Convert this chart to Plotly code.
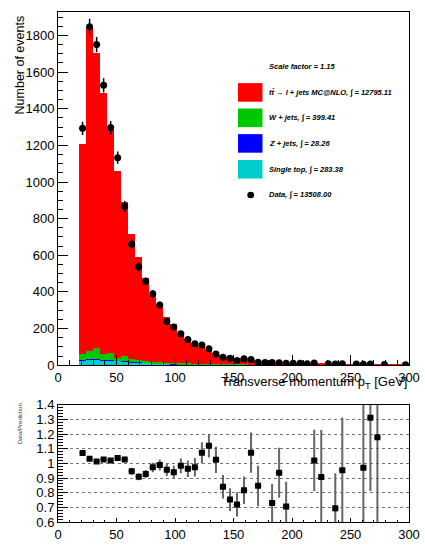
import plotly.graph_objects as go

# ---------------- data ----------------
bin_centers = [21, 27, 33, 39, 45, 51, 57, 63, 69, 75, 81, 87, 93, 99, 105, 111, 117, 123,
               129, 135, 141, 147, 153, 159, 165, 171, 177, 183, 189, 195, 201, 207, 213,
               219, 225, 231, 237, 243, 249, 255, 261, 267, 273, 279, 285, 291, 297]
bin_width = 6

single_top = [25, 31, 31, 28, 25, 23, 20, 17, 14, 12, 10, 8, 7, 6, 5, 4.5, 4, 3.5, 3, 2.6,
              2.2, 2, 1.7, 1.5, 1.3, 1.1, 1, 0.9, 0.8, 0.7, 0.6, 0.5, 0.5, 0.4, 0.4, 0.3,
              0.3, 0.3, 0.2, 0.2, 0.2, 0.2, 0.1, 0.1, 0.1, 0.1, 0.1]
z_jets = [1.5, 2, 2, 2, 1.8, 1.7, 1.5, 1.3, 1.2, 1.1, 1, 0.9, 0.8, 0.7, 0.6, 0.6, 0.5, 0.5,
          0.4, 0.4, 0.3, 0.3, 0.3, 0.3, 0.2, 0.2, 0.2, 0.2, 0.2, 0.1, 0.1, 0.1, 0.1, 0.1,
          0.1, 0.1, 0.1, 0.1, 0.1, 0.1, 0.1, 0.1, 0.1, 0.1, 0.1, 0.1, 0.1]
w_jets = [32, 47, 60, 32, 40, 15, 30, 18, 13, 10, 8, 7, 6, 5.5, 5, 4.5, 4, 3.5, 3, 3, 2.5,
          2.5, 2, 2, 2, 1.5, 1.5, 1.5, 1.2, 1.2, 1, 1, 1, 0.8, 0.8, 0.8, 0.6, 0.6, 0.6,
          0.5, 0.5, 0.5, 0.4, 0.4, 0.4, 0.3, 0.3]
ttbar = [1150, 1759, 1613, 1425, 1221, 1022, 840, 680, 565, 453, 362, 316, 248, 210, 167,
         136, 112, 95, 78, 60, 48, 39, 33, 28, 23.5, 20, 17, 14.5, 12.8, 11, 9.3, 8.4, 7.5,
         6.7, 5.8, 4.9, 4.6, 4.1, 3.6, 3.3, 2.9, 2.5, 2.2, 2.0, 1.7, 1.6, 1.4]

data_x = [21, 27, 33, 39, 45, 51, 57, 63, 69, 75, 81, 87, 93, 99, 105, 111, 117, 123, 129,
          135, 141, 147, 153, 159, 165, 171, 177, 183, 189, 195, 201, 207, 213, 219, 231,
          237, 243, 255, 261, 267, 279, 297]
data_y = [1293, 1848, 1750, 1528, 1297, 1133, 867, 660, 537, 458, 390, 328, 239, 209, 172,
          140, 117, 110, 90, 61, 44, 38, 26, 35, 31, 16, 15, 15, 14, 10, 10, 10, 8, 12, 8,
          7, 8, 6, 5, 6, 4, 3]
data_err = [36, 43, 42, 39, 36, 34, 29, 26, 23, 21, 20, 18, 15, 14, 13, 12, 11, 10, 9.5,
            7.8, 6.6, 6.2, 5.1, 5.9, 5.6, 4, 3.9, 3.9, 3.7, 3.2, 3.2, 3.2, 2.8, 3.5, 2.8,
            2.6, 2.8, 2.4, 2.2, 2.4, 2, 1.7]

ratio_x = [21, 27, 33, 39, 45, 51, 57, 63, 69, 75, 81, 87, 93, 99, 105, 111, 117, 123, 129,
           135, 141, 147, 153, 159, 165, 171, 183, 189, 195, 219, 225, 237, 243, 261, 267, 273]
ratio_y = [1.071, 1.031, 1.013, 1.027, 1.020, 1.036, 1.027, 0.947, 0.909, 0.927, 0.973,
           0.989, 0.956, 0.940, 0.983, 0.963, 0.973, 1.073, 1.120, 1.024, 0.840, 0.753,
           0.720, 0.816, 1.073, 0.847, 0.729, 0.936, 0.705, 1.020, 0.907, 0.693, 0.953,
           0.971, 1.311, 1.178]
ratio_err = [0.012, 0.012, 0.012, 0.013, 0.014, 0.016, 0.018, 0.024, 0.024, 0.027, 0.033,
             0.038, 0.042, 0.044, 0.051, 0.056, 0.063, 0.072, 0.080, 0.089, 0.080, 0.078,
             0.083, 0.094, 0.137, 0.137, 0.13, 0.17, 0.17, 0.21, 0.32, 0.24, 0.36, 0.5,
             0.5, 0.6]

scale_factor = "1.15"
legend_labels = ["tt\u0304 \u2192 l + jets MC@NLO, \u222b = 12795.11",
                 "W + jets, \u222b = 399.41",
                 "Z + jets, \u222b = 28.26",
                 "Single top, \u222b = 283.38"]
data_label = "Data, \u222b = 13508.00"
colors = ["#ff0000", "#00c800", "#0000ff", "#00cccc"]

# ---------------- geometry helpers (pixel -> paper) ----------------
L, R, T, B = 58, 409, 5, 527
PW, PH = R - L, B - T


def px(x):
    return (x - L) / PW


def py(y):
    return (B - y) / PH


FONT = "Liberation Sans, Arial, Helvetica, sans-serif"

fig = go.Figure()

# stacked histogram, bottom to top
for vals, col in [(single_top, colors[3]), (z_jets, colors[2]), (w_jets, colors[1]), (ttbar, colors[0])]:
    fig.add_trace(go.Bar(x=bin_centers, y=vals, width=bin_width, marker=dict(color=col, line=dict(width=0)),
                         xaxis="x", yaxis="y", showlegend=False))

fig.add_trace(go.Scatter(x=data_x, y=data_y, mode="markers",
                         marker=dict(symbol="circle", size=7, color="black"),
                         error_y=dict(type="data", array=data_err, color="black", thickness=1.5, width=0),
                         xaxis="x", yaxis="y", showlegend=False))

fig.add_trace(go.Scatter(x=ratio_x, y=ratio_y, mode="markers",
                         marker=dict(symbol="square", size=6, color="black"),
                         error_y=dict(type="data", array=ratio_err, color="#666666", thickness=2, width=0),
                         error_x=dict(type="constant", value=bin_width / 2, color="#666666", thickness=1, width=0),
                         xaxis="x2", yaxis="y2", showlegend=False, cliponaxis=True))

main_bottom = py(366.5)
ratio_top = py(407)

axis_common = dict(showline=True, linecolor="black", linewidth=1, mirror=True, showgrid=False,
                   zeroline=False, ticks="inside", tickcolor="black", tickwidth=1,
                   tickfont=dict(family=FONT, size=13, color="black"))

fig.update_layout(
    width=425, height=547, autosize=False,
    margin=dict(l=L, r=425 - R, t=T, b=547 - B),
    paper_bgcolor="white", plot_bgcolor="white",
    barmode="stack", bargap=0,
    xaxis=dict(domain=[0, 1], range=[0, 300], anchor="y", tick0=0, dtick=50, ticklen=10,
               minor=dict(dtick=10, ticks="inside", ticklen=5, tickcolor="black"), **axis_common),
    yaxis=dict(domain=[main_bottom, 1], range=[0, 1928], anchor="x", tick0=0, dtick=200, ticklen=10,
               minor=dict(dtick=50, ticks="inside", ticklen=5, tickcolor="black"), **axis_common),
    xaxis2=dict(domain=[0, 1], range=[0, 300], anchor="y2", tick0=0, dtick=50, ticklen=4,
                minor=dict(dtick=10, ticks="inside", ticklen=2, tickcolor="black"), **axis_common),
    yaxis2=dict(domain=[0, ratio_top], range=[0.6, 1.4], anchor="x2", tick0=0.6, dtick=0.1, ticklen=10,
                minor=dict(dtick=0.02, ticks="inside", ticklen=5, tickcolor="black"),
                **{k: v for k, v in axis_common.items() if k != "showgrid"},
                showgrid=True, gridcolor="#777777", griddash="dot", gridwidth=1),
)

annotations = []
# axis titles
annotations.append(dict(text="Number of events", xref="paper", yref="paper", x=px(20), y=py(7),
                        xanchor="center", yanchor="top", textangle=-90, showarrow=False,
                        font=dict(family=FONT, size=12.5, color="black")))
annotations.append(dict(text="Transverse momentum p<sub>T</sub> [GeV]", xref="paper", yref="paper",
                        x=px(409), y=py(384), xanchor="right", yanchor="middle", showarrow=False,
                        font=dict(family=FONT, size=13, color="black")))
annotations.append(dict(text="Data/Prediction", xref="paper", yref="paper", x=px(20), y=py(427),
                        xanchor="center", yanchor="middle", textangle=-90, showarrow=False,
                        font=dict(family=FONT, size=6, color="#333333")))

# legend
leg_font = dict(family=FONT, size=7.5, color="black", weight="bold", style="italic")
annotations.append(dict(text="Scale factor = " + scale_factor, xref="paper", yref="paper",
                        x=px(266.5), y=py(61), xanchor="left", yanchor="middle", showarrow=False,
                        font=leg_font))
row_y = [87.3, 113.3, 139.5, 166.0]
shapes = []
for label, col, yc in zip(legend_labels, colors, row_y):
    annotations.append(dict(text=label, xref="paper", yref="paper", x=px(266.5), y=py(yc),
                            xanchor="left", yanchor="middle", showarrow=False, font=leg_font))
    shapes.append(dict(type="rect", xref="paper", yref="paper", x0=px(238), x1=px(262.5),
                       y0=py(yc + 9.5), y1=py(yc - 9.5), fillcolor=col, line=dict(width=0)))
annotations.append(dict(text=data_label, xref="paper", yref="paper", x=px(266.5), y=py(192.3),
                        xanchor="left", yanchor="middle", showarrow=False, font=leg_font))
shapes.append(dict(type="circle", xref="paper", yref="paper", x0=px(247.3), x1=px(254.1),
                   y0=py(195.7), y1=py(188.9), fillcolor="black", line=dict(width=0)))

fig.update_layout(annotations=annotations, shapes=shapes)

fig.write_html("out.html")
